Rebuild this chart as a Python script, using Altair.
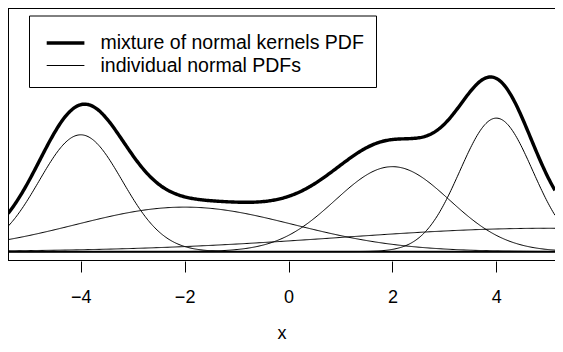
import altair as alt
import numpy as np
import pandas as pd

# component parameters
means = [-4.0, -2.0, 2.0, 4.0, 5.0]
sds = [0.8, 2.1, 1.1, 0.7, 4.0]
weights = [0.2, 0.2, 0.2, 0.2, 0.2]

x_min, x_max = -5.4, 5.129
tick_values = [-4, -2, 0, 2, 4]
legend_labels = ["mixture of normal kernels PDF", "individual normal PDFs"]

W, H = 547, 253
FONT = "Liberation Sans"
FS_AX = 18
FS_LEG = 19.5

xs = np.linspace(x_min, x_max, 500)
rows = []
mix = np.zeros_like(xs)
for i, (m, s, w) in enumerate(zip(means, sds, weights)):
    d = w * np.exp(-0.5 * ((xs - m) / s) ** 2) / (s * np.sqrt(2 * np.pi))
    mix += d
    for xv, yv in zip(xs, d):
        rows.append({"x": xv, "y": yv, "series": f"c{i}"})
comp_df = pd.DataFrame(rows)
mix_df = pd.DataFrame({"x": xs, "y": mix, "series": "mixture"})

xscale = alt.Scale(domain=[x_min, x_max], nice=False, zero=False)
yscale = alt.Scale(domain=[-0.008, 0.208], nice=False, zero=False)

xaxis = alt.Axis(
    values=tick_values, title="x", domain=False, grid=False,
    tickColor="black", tickSize=11, tickWidth=1,
    labelFont=FONT, labelFontSize=FS_AX, labelColor="black", labelPadding=16,
    titleFont=FONT, titleFontSize=FS_AX, titleColor="black", titleFontWeight="normal",
    titleBaseline="alphabetic", titlePadding=32,
)

comps = alt.Chart(comp_df).mark_line(color="black", strokeWidth=1, clip=True).encode(
    x=alt.X("x:Q", scale=xscale, axis=xaxis),
    y=alt.Y("y:Q", scale=yscale, axis=None),
    detail="series:N",
)

mixture = alt.Chart(mix_df).mark_line(color="black", strokeWidth=3.4, clip=True).encode(
    x=alt.X("x:Q", scale=xscale),
    y=alt.Y("y:Q", scale=yscale),
)

zero_df = pd.DataFrame({"y": [0.0]})
baseline = alt.Chart(zero_df).mark_rule(color="black", strokeWidth=2).encode(
    y=alt.Y("y:Q", scale=yscale),
    x=alt.value(0), x2=alt.value(W),
)

one = pd.DataFrame({"a": [0]})
border_top = alt.Chart(one).mark_rule(color="black", strokeWidth=1).encode(
    x=alt.value(0), x2=alt.value(W), y=alt.value(0.5))
border_left = alt.Chart(one).mark_rule(color="black", strokeWidth=1).encode(
    x=alt.value(0.5), y=alt.value(0), y2=alt.value(H))
border_bottom = alt.Chart(one).mark_rule(color="black", strokeWidth=1).encode(
    x=alt.value(0), x2=alt.value(W), y=alt.value(H - 0.5))

# legend (drawn as decoration)
leg_box = alt.Chart(one).mark_rect(fill="white", stroke="black", strokeWidth=1).encode(
    x=alt.value(21.5), x2=alt.value(368.5), y=alt.value(8), y2=alt.value(79.5))
leg_df = pd.DataFrame({"label": legend_labels})
leg_line1 = alt.Chart(leg_df.iloc[[0]]).mark_rule(color="black", strokeWidth=3.4).encode(
    x=alt.value(38.7), x2=alt.value(76.4), y=alt.value(35))
leg_line2 = alt.Chart(leg_df.iloc[[1]]).mark_rule(color="black", strokeWidth=1).encode(
    x=alt.value(38.7), x2=alt.value(76.4), y=alt.value(57.5))
leg_text1 = alt.Chart(leg_df.iloc[[0]]).mark_text(
    align="left", baseline="middle", font=FONT, fontSize=FS_LEG, color="black").encode(
    x=alt.value(92.5), y=alt.value(35), text="label:N")
leg_text2 = alt.Chart(leg_df.iloc[[1]]).mark_text(
    align="left", baseline="middle", font=FONT, fontSize=FS_LEG, color="black").encode(
    x=alt.value(92.5), y=alt.value(57.5), text="label:N")

chart = alt.layer(
    comps, mixture, baseline, border_top, border_left, border_bottom,
    leg_box, leg_line1, leg_line2, leg_text1, leg_text2,
).properties(
    width=W, height=H, background="white",
    padding={"left": 0, "top": 0, "right": 0, "bottom": 83},
    autosize=alt.AutoSizeParams(type="none"),
).configure_view(stroke=None)

chart.save("out.html", embed_options={"renderer": "svg", "actions": False})
